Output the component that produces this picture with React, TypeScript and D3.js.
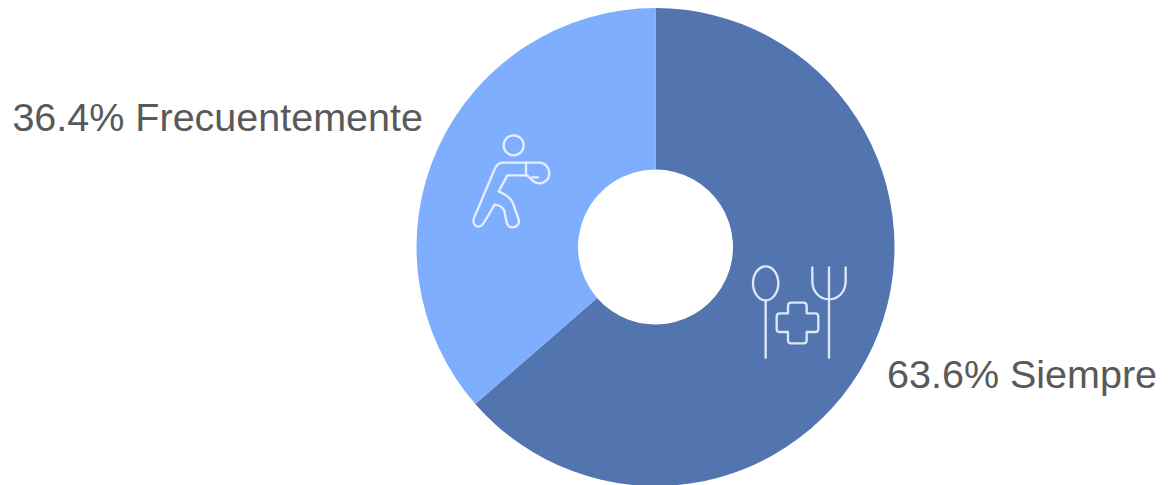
import React from "react";
import * as d3 from "d3";

// Share of respondents per answer, clockwise from twelve o'clock
const categories = ["Siempre", "Frecuentemente"];
const percentages = [63.6, 36.4];
const sliceColors = ["#5275B0", "#80AEFF"];

const WIDTH = 1172;
const HEIGHT = 485;
const CX = 655.5;
const CY = 247;
const OUTER = 239;
const INNER = 77.5;

const labelPlacement = [
  { x: 887, y: 388, anchor: "start" },
  { x: 423, y: 131, anchor: "end" },
];

// Outline pictogram of a person throwing a punch
const Boxer = () => (
  <g transform="translate(450 120) scale(0.3333)" fill="none" stroke="#E4EEFF" strokeWidth={7} strokeLinejoin="round" strokeLinecap="round">
    <circle cx={191} cy={76} r={30} />
    <path d="M158 128 L268 128 C286 128 298 144 298 160 C298 178 284 190 268 190 C252 190 243 178 232 166 L172 166 L146 214 C165 222 182 232 189 250 L206 298 C210 312 200 322 188 322 C176 322 171 314 169 304 L163 272 C157 260 146 255 134 254 L102 308 C95 319 85 322 78 318 C70 313 68 302 73 292 L133 150 C138 137 146 128 158 128 Z" />
    <path d="M228 128 L228 166 M246 172 L264 172" />
  </g>
);

// Outline pictogram of a spoon and fork with a medical cross between them
const Utensils = () => (
  <g transform="translate(735 250) scale(0.3333)" fill="none" stroke="#DCE6F7" strokeWidth={7} strokeLinejoin="round" strokeLinecap="round">
    <ellipse cx={92} cy={100} rx={38} ry={51} />
    <path d="M92 151 L92 323" />
    <path d="M232 52 L232 92 C232 128 256 148 282 148 C308 148 332 128 332 92 L332 52" />
    <path d="M282 52 L282 323" />
    <path d="M168 158 L206 158 C212 158 215 162 215 168 L215 190 L240 190 C247 190 250 194 250 200 L250 236 C250 242 247 246 240 246 L215 246 L215 270 C215 276 212 280 206 280 L168 280 C162 280 159 276 159 270 L159 246 L135 246 C129 246 125 242 125 236 L125 200 C125 194 129 190 135 190 L159 190 L159 168 C159 162 162 158 168 158 Z" />
  </g>
);

export default function App() {
  const pie = d3.pie<number>().sort(null).value((d) => d);
  const arc = d3.arc<d3.PieArcDatum<number>>().innerRadius(INNER).outerRadius(OUTER);
  const arcs = pie(percentages);

  return (
    <svg
      width={WIDTH}
      height={HEIGHT}
      viewBox={`0 0 ${WIDTH} ${HEIGHT}`}
      style={{ position: "fixed", left: 0, top: 0, display: "block", background: "#fff" }}
    >
      <g transform={`translate(${CX} ${CY})`}>
        {arcs.map((a, i) => (
          <path key={categories[i]} d={arc(a) ?? ""} fill={sliceColors[i]} />
        ))}
      </g>
      <Boxer />
      <Utensils />
      {categories.map((name, i) => (
        <text
          key={name}
          x={labelPlacement[i].x}
          y={labelPlacement[i].y}
          textAnchor={labelPlacement[i].anchor as "start" | "end"}
          fontFamily="'Liberation Sans', Arial, sans-serif"
          fontSize={39.5}
          fill="#595959"
        >
          {`${percentages[i].toFixed(1)}% ${name}`}
        </text>
      ))}
    </svg>
  );
}
